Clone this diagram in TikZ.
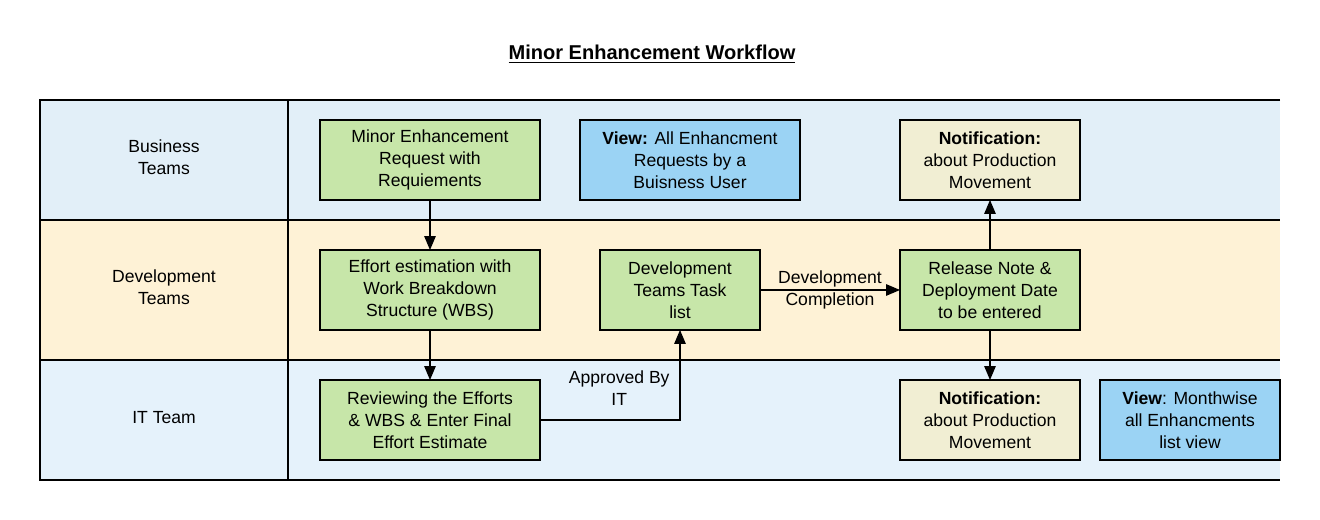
\documentclass[tikz,border=0pt]{standalone}
\usepackage{fontspec}
\setmainfont{Liberation Sans}
\usetikzlibrary{positioning,arrows}
\definecolor{LaneBlue}{HTML}{E2EFF8}
\definecolor{LaneYellow}{HTML}{FEF2D6}
\definecolor{LaneBlueIT}{HTML}{E5F2FB}
\definecolor{TaskGreen}{HTML}{C7E6A9}
\definecolor{ViewBlue}{HTML}{9BD3F4}
\definecolor{NoteBeige}{HTML}{F1EED3}
\tikzstyle{TaskNode}=[rectangle, draw=black, line width=1.1pt, outer sep=0pt, fill=TaskGreen, minimum width=4.4cm, minimum height=1.6cm, align=center, font=\fontsize{10}{12.5}\selectfont]
\tikzstyle{ViewNode}=[TaskNode, fill=ViewBlue]
\tikzstyle{NoteNode}=[TaskNode, fill=NoteBeige, minimum width=3.6cm]
\tikzstyle{LaneLabel}=[align=center, font=\fontsize{10}{12.5}\selectfont]
\tikzstyle{FlowLabel}=[align=center, font=\fontsize{10}{12.5}\selectfont, inner sep=1pt]

\begin{document}
\begin{tikzpicture}[>=triangle 45, line width=0.8pt]
    \useasboundingbox (0,0) rectangle (26.4,10.4);

    % swimlanes
    \fill[LaneBlue] (0.8,6.0) rectangle (25.6,8.4);
    \fill[LaneYellow] (0.8,3.2) rectangle (25.6,6.0);
    \fill[LaneBlueIT] (0.8,0.8) rectangle (25.6,3.2);
    \draw[line width=1.1pt] (25.6,8.4) -- (0.8,8.4) -- (0.8,0.8) -- (25.6,0.8);
    \draw[line width=1.1pt] (0.8,6.0) -- (25.6,6.0);
    \draw[line width=1.1pt] (0.8,3.2) -- (25.6,3.2);
    \draw[line width=1.1pt] (5.76,8.4) -- (5.76,0.8);

    \node (title) at (13.04,9.32) {\fontsize{11.4}{13}\selectfont\underline{\textbf{Minor Enhancement Workflow}}};

    \node (business) [LaneLabel] at (3.28,7.25) {Business\\Teams};
    \node (development) [LaneLabel] at (3.28,4.65) {Development\\Teams};
    \node (itteam) [LaneLabel] at (3.28,2.05) {IT Team};

    \node (request) [TaskNode] at (8.6,7.2) {Minor Enhancement\\Request with\\Requiements};
    \node (viewall) [ViewNode, right=0.8cm of request] {\textbf{View:} All Enhancment\\Requests by a\\Buisness User};
    \node (effort) [TaskNode, below=1.0cm of request] {Effort estimation with\\Work Breakdown\\Structure (WBS)};
    \node (review) [TaskNode, below=1.0cm of effort] {Reviewing the Efforts\\\& WBS \& Enter Final\\Effort Estimate};
    \node (devtask) [TaskNode, minimum width=3.2cm, right=1.2cm of effort] {Development\\Teams Task\\list};
    \node (release) [TaskNode, minimum width=3.6cm, right=2.8cm of devtask] {Release Note \&\\Deployment Date\\to be entered};
    \node (notifybiz) [NoteNode, above=1.0cm of release] {\textbf{Notification:}\\about Production\\Movement};
    \node (notifyit) [NoteNode, below=1.0cm of release] {\textbf{Notification:}\\about Production\\Movement};
    \node (viewmonth) [ViewNode, minimum width=3.6cm, right=0.4cm of notifyit] {\textbf{View}: Monthwise\\all Enhancments\\list view};

    \draw [->] (request) -- (effort);
    \draw [->] (effort) -- (review);
    \draw [->] (review.east) -| node [FlowLabel, pos=0.5, anchor=south east, xshift=-0.16cm, yshift=0.25cm] {Approved By\\IT} (devtask.south);
    \draw [->] (devtask) -- node [FlowLabel] {Development\\Completion} (release);
    \draw [->] (release) -- (notifybiz);
    \draw [->] (release) -- (notifyit);
  \end{tikzpicture}
\end{document}
